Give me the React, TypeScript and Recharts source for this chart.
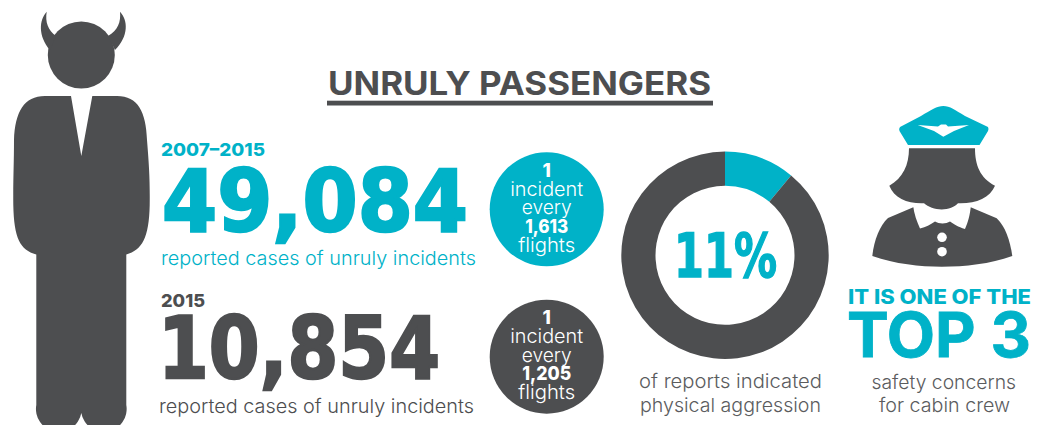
import React from "react";
import { Cell, Pie, PieChart } from "recharts";

const TEAL = "#00b2c8";
const DARK = "#4d4e50";
const GREY = "#5b5c5e";
const FONT = "Inter, 'Open Sans', sans-serif";
const HEAVY = "'DejaVu Sans', Inter, sans-serif";

const aggressionLabels = ["physical aggression", "other reports"];
const aggressionValues = [11, 89];
const aggressionColors = [TEAL, DARK];

const totals = ["49,084", "10,854"];
const years = ["2007–2015", "2015"];
const rates = ["1,613", "1,205"];

const pieData = aggressionLabels.map((name, i) => ({ name, value: aggressionValues[i] }));

type LabelProps = {
  x: number;
  y: number;
  w?: number;
  size: number;
  weight?: number;
  fill: string;
  family?: string;
  thicken?: number;
  anchor?: "start" | "middle";
  children: React.ReactNode;
};

function Label({ x, y, w, size, weight = 300, fill, family = FONT, thicken, anchor = "start", children }: LabelProps) {
  return (
    <text
      x={x}
      y={y}
      fontSize={size}
      fontWeight={weight}
      fill={fill}
      stroke={thicken ? fill : undefined}
      strokeWidth={thicken}
      fontFamily={family}
      textAnchor={anchor}
      textLength={w}
      lengthAdjust={w ? "spacingAndGlyphs" : undefined}
    >
      {children}
    </text>
  );
}

function Devil() {
  return (
    <g fill={DARK}>
      <circle cx={81.3} cy={55} r={33.5} />
      <path d="M46.7 11.7 C39 20 38 36 50 50 L56 36 C48 30 45 22 46.7 11.7 Z" />
      <path d="M120 11.7 C128 20 129 36 115 50 L108 36 C118 30 121 22 120 11.7 Z" />
      <path d="M71 96 L81.3 156 L92.3 96 L117 96 C138 96 146 112 147 140 C149 165 150 180 149.7 205 C149 238 142 250 126.3 254.5 L126.3 405 A22.5 22.5 0 0 1 81.3 413 A22.5 22.5 0 0 1 36.3 405 L36.3 254.5 C20 250 14 238 13.3 205 C13 180 14 165 14 140 C15 112 24 96 45 96 Z" />
    </g>
  );
}

function Pilot() {
  return (
    <g>
      <path
        fill={TEAL}
        d="M943.3 106 C950 106 955 110 965 116 L988 127 Q989 129 988 131 L979.5 145 L908 145 L899.5 131 Q898.5 129 900 127 L921 116 C931 110 937 106 943.3 106 Z"
      />
      <path
        fill="#fff"
        d="M917.7 125 L938 126.5 L941 124.5 L946 124.5 L948 126.5 L969 125 L954 131 L943.3 136.7 L934 131 Z"
      />
      <path
        fill={DARK}
        d="M913.3 207.3 L888 218 C880 225 874 240 872.3 256 C895 264 920 266.7 941.7 266.7 C965 266.7 990 264 1012.3 256 C1010 240 1005 226 996.7 218.3 L970.7 207.3 Z"
      />
      <path
        fill="#fff"
        d="M913 205 L971 205 C970 215 968 222 965 229 C958 227 954 224 950 221.5 C946 224 939 224 935 221.5 C930 225 926 227 920 228.5 C917 222 914 214 913 205 Z"
      />
      <path
        fill={DARK}
        d="M909 148.3 L975 148.3 C975 165 980 178 995 185.7 C990 198 975 204 958 203.3 C955 207 948 209.5 941.7 209.5 C935 209.5 928 207 924 203.3 C908 204 894 198 889.3 185.7 C903 178 909 165 909 148.3 Z"
      />
      <circle cx={942} cy={237.3} r={4.8} fill="#fff" />
      <circle cx={942} cy={251.7} r={4.8} fill="#fff" />
    </g>
  );
}

function RateBadge({ cy, fill, rate, rateW }: { cy: number; fill: string; rate: string; rateW: number }) {
  const cx = 546.7;
  return (
    <g>
      <circle cx={cx} cy={cy} r={57} fill={fill} />
      <Label x={cx} y={cy - 32.6} size={19} weight={800} fill="#fff" anchor="middle">1</Label>
      <Label x={cx} y={cy - 13.3} w={73} size={19.5} fill="#fff" anchor="middle">incident</Label>
      <Label x={cx} y={cy + 5} w={50} size={19.5} fill="#fff" anchor="middle">every</Label>
      <Label x={cx} y={cy + 23.4} w={rateW} size={19} weight={800} fill="#fff" anchor="middle">{rate}</Label>
      <Label x={cx} y={cy + 42.4} w={57} size={19.5} fill="#fff" anchor="middle">flights</Label>
    </g>
  );
}

export default function App() {
  return (
    <div style={{ position: "absolute", left: 0, top: 0, width: 1046, height: 425, background: "#fff", overflow: "hidden" }}>
      <div style={{ position: "absolute", left: 0, top: 0 }}>
        <PieChart width={1046} height={425} margin={{ top: 0, right: 0, bottom: 0, left: 0 }}>
          <Pie
            data={pieData}
            dataKey="value"
            nameKey="name"
            cx={725}
            cy={255.3}
            innerRadius={69.5}
            outerRadius={103.7}
            startAngle={90}
            endAngle={-270}
            stroke="none"
            isAnimationActive={false}
          >
            {pieData.map((d, i) => (
              <Cell key={d.name} fill={aggressionColors[i]} />
            ))}
          </Pie>
        </PieChart>
      </div>
      <svg width={1046} height={425} style={{ position: "absolute", left: 0, top: 0 }}>
        <Devil />
        <Pilot />

        <Label x={328} y={94.5} w={383} size={32.5} weight={700} fill={DARK}>UNRULY PASSENGERS</Label>
        <rect x={327} y={100.7} width={386} height={4.8} fill={DARK} />

        <Label x={161} y={156} w={104} size={18} weight={800} fill={TEAL}>{years[0]}</Label>
        <Label x={162} y={231} w={306} size={85} weight={700} family={HEAVY} thicken={2.5} fill={TEAL}>{totals[0]}</Label>
        <Label x={161} y={265} w={315} size={19} fill={TEAL}>reported cases of unruly incidents</Label>

        <Label x={161} y={306.7} w={44} size={18} weight={800} fill={DARK}>{years[1]}</Label>
        <Label x={158} y={378} w={282} size={85} weight={700} family={HEAVY} thicken={2.5} fill={DARK}>{totals[1]}</Label>
        <Label x={159} y={413} w={315} size={19} fill={DARK}>reported cases of unruly incidents</Label>

        <RateBadge cy={209.3} fill={TEAL} rate={rates[0]} rateW={43} />
        <RateBadge cy={356.7} fill={DARK} rate={rates[1]} rateW={49} />

        <Label x={674} y={277} w={103} size={60} weight={700} family={HEAVY} thicken={1.5} fill={TEAL}>{aggressionValues[0]}%</Label>
        <Label x={639} y={388} w={183} size={19} fill={GREY}>of reports indicated</Label>
        <Label x={640} y={411.7} w={181} size={19} fill={GREY}>physical aggression</Label>

        <Label x={848} y={304} w={183} size={19.5} weight={800} fill={TEAL}>IT IS ONE OF THE</Label>
        <Label x={847} y={357} w={184} size={62} weight={700} thicken={0.8} fill={TEAL}>TOP 3</Label>
        <Label x={871.5} y={388.5} w={144.5} size={19} fill={GREY}>safety concerns</Label>
        <Label x={879} y={412} w={131} size={19} fill={GREY}>for cabin crew</Label>
      </svg>
    </div>
  );
}
